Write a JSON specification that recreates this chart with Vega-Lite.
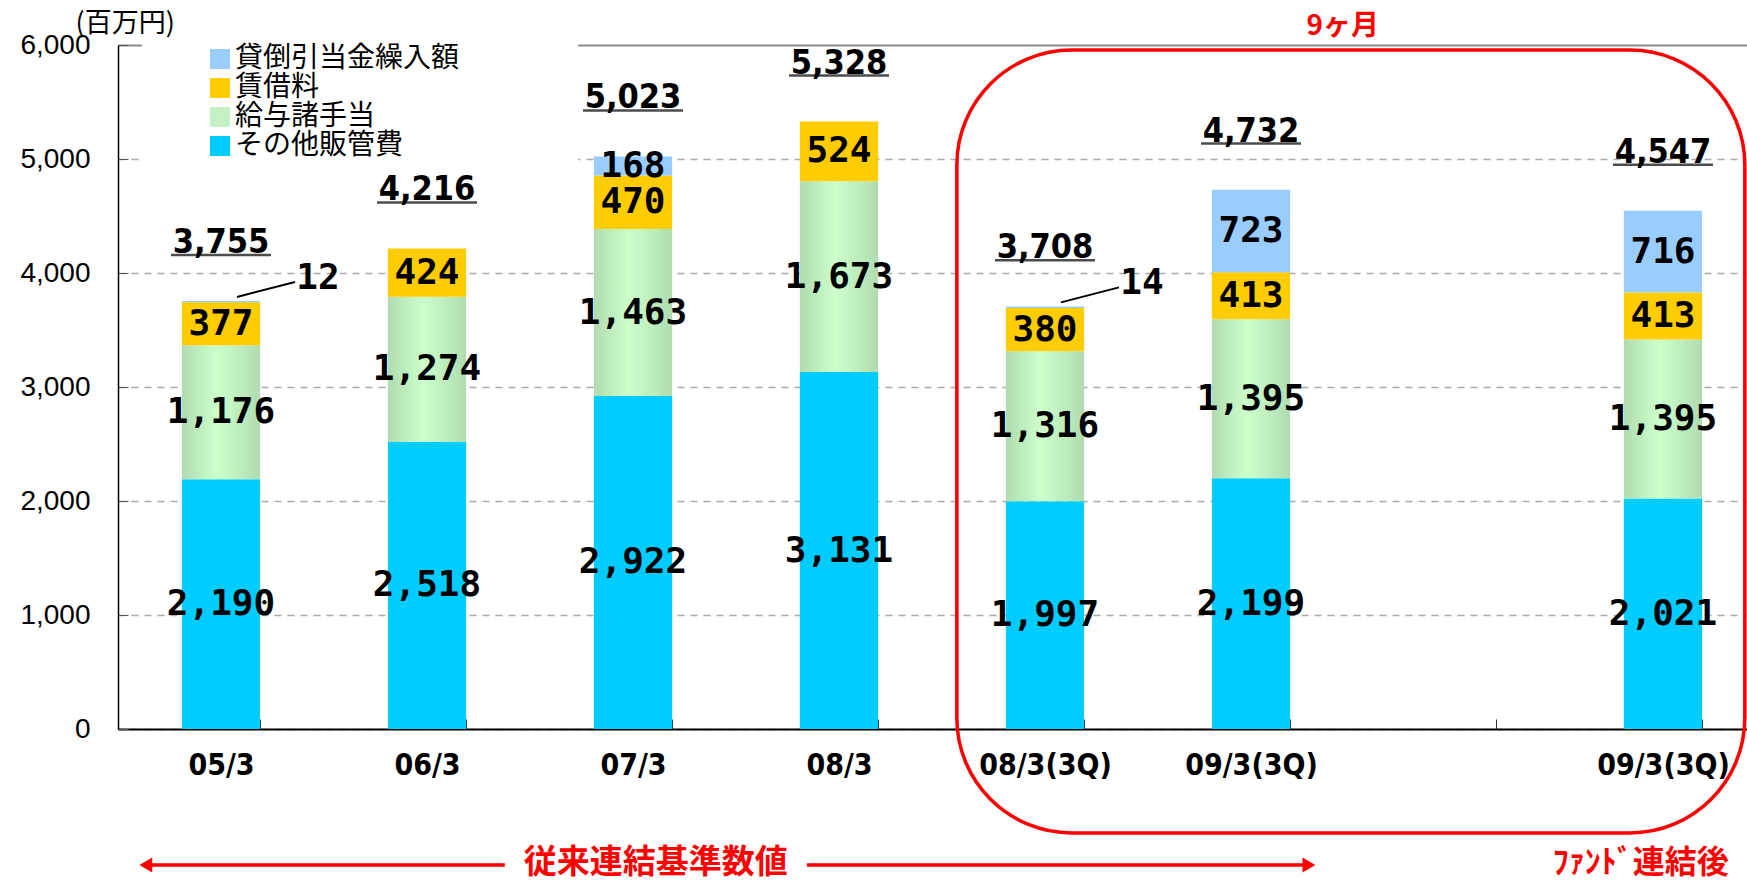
{
  "$schema": "https://vega.github.io/schema/vega-lite/v6.json",
  "width": 1629,
  "height": 684,
  "autosize": {"type": "none"},
  "padding": {"left": 118, "top": 45, "right": 0, "bottom": 154},
  "background": "white",
  "config": {"view": {"stroke": null}},
  "datasets": {
    "costs": [
      {"cat": "05/3", "s": "その他販管費", "v": 2190, "o": 1},
      {"cat": "05/3", "s": "給与諸手当", "v": 1176, "o": 2},
      {"cat": "05/3", "s": "賃借料", "v": 377, "o": 3},
      {"cat": "05/3", "s": "貸倒引当金繰入額", "v": 12, "o": 4},
      {"cat": "06/3", "s": "その他販管費", "v": 2518, "o": 1},
      {"cat": "06/3", "s": "給与諸手当", "v": 1274, "o": 2},
      {"cat": "06/3", "s": "賃借料", "v": 424, "o": 3},
      {"cat": "07/3", "s": "その他販管費", "v": 2922, "o": 1},
      {"cat": "07/3", "s": "給与諸手当", "v": 1463, "o": 2},
      {"cat": "07/3", "s": "賃借料", "v": 470, "o": 3},
      {"cat": "07/3", "s": "貸倒引当金繰入額", "v": 168, "o": 4},
      {"cat": "08/3", "s": "その他販管費", "v": 3131, "o": 1},
      {"cat": "08/3", "s": "給与諸手当", "v": 1673, "o": 2},
      {"cat": "08/3", "s": "賃借料", "v": 524, "o": 3},
      {"cat": "08/3(3Q)", "s": "その他販管費", "v": 1997, "o": 1},
      {"cat": "08/3(3Q)", "s": "給与諸手当", "v": 1316, "o": 2},
      {"cat": "08/3(3Q)", "s": "賃借料", "v": 380, "o": 3},
      {"cat": "08/3(3Q)", "s": "貸倒引当金繰入額", "v": 14, "o": 4},
      {"cat": "09/3(3Q)", "s": "その他販管費", "v": 2199, "o": 1},
      {"cat": "09/3(3Q)", "s": "給与諸手当", "v": 1395, "o": 2},
      {"cat": "09/3(3Q)", "s": "賃借料", "v": 413, "o": 3},
      {"cat": "09/3(3Q)", "s": "貸倒引当金繰入額", "v": 723, "o": 4},
      {"cat": "09/3(3Q)F", "s": "その他販管費", "v": 2021, "o": 1},
      {"cat": "09/3(3Q)F", "s": "給与諸手当", "v": 1395, "o": 2},
      {"cat": "09/3(3Q)F", "s": "賃借料", "v": 413, "o": 3},
      {"cat": "09/3(3Q)F", "s": "貸倒引当金繰入額", "v": 716, "o": 4}
    ],
    "totals": [
      {"cat": "05/3", "total": 3755},
      {"cat": "06/3", "total": 4216},
      {"cat": "07/3", "total": 5023},
      {"cat": "08/3", "total": 5328},
      {"cat": "08/3(3Q)", "total": 3708},
      {"cat": "09/3(3Q)", "total": 4732},
      {"cat": "09/3(3Q)F", "total": 4547}
    ]
  },
  "layer": [
    {
      "data": {"name": "costs"},
      "mark": {"type": "bar"},
      "encoding": {
        "x": {
          "field": "cat", "type": "nominal", "sort": null,
          "scale": {
            "domain": ["05/3", "06/3", "07/3", "08/3", "08/3(3Q)", "09/3(3Q)", "gap", "09/3(3Q)F"],
            "range": [0, 1648], "paddingInner": 0.62, "paddingOuter": 0.31
          },
          "axis": {
            "title": null,
            "labelAngle": 0,
            "labelExpr": "isString(datum.value) && datum.value !== 'gap' ? replace(datum.value, 'F', '') : ''",
            "labelFont": "DejaVu Sans Condensed, Liberation Sans Narrow, DejaVu Sans",
            "labelFontWeight": "bold",
            "labelFontSize": 30,
            "labelColor": "black",
            "labelPadding": 31,
            "tickBand": "extent",
            "tickSize": -10,
            "tickColor": "#333333",
            "domainColor": "black",
            "domainWidth": 2
          }
        },
        "y": {
          "field": "v", "type": "quantitative", "stack": "zero",
          "scale": {"domain": [0, 6000], "nice": false},
          "axis": {
            "values": [0, 1000, 2000, 3000, 4000, 5000, 6000],
            "labelExpr": "format(datum.value, ',')",
            "labelFont": "Liberation Sans",
            "labelFontSize": 28,
            "labelColor": "black",
            "labelPadding": 38,
            "tickSize": -10,
            "tickColor": "#555555",
            "domainColor": "black",
            "domainWidth": 1.5,
            "grid": true,
            "gridColor": {"condition": {"test": "datum.value === 6000", "value": "#8C8C8C"}, "value": "#AAAAAA"},
            "gridDash": {"condition": {"test": "datum.value === 6000", "value": []}, "value": [7, 6]},
            "gridWidth": {"condition": {"test": "datum.value === 6000", "value": 2}, "value": 1.5},
            "title": "(百万円)",
            "titleAngle": 0,
            "titleAlign": "left",
            "titleBaseline": "middle",
            "titleX": -43,
            "titleY": -22,
            "titleFont": "Noto Sans CJK JP",
            "titleFontWeight": "normal",
            "titleFontSize": 27,
            "titleColor": "black"
          }
        },
        "order": {"field": "o", "type": "quantitative"},
        "color": {
          "condition": {
            "test": "datum.s === '給与諸手当'",
            "value": {
              "gradient": "linear", "x1": 0, "x2": 1, "y1": 0, "y2": 0,
              "stops": [
                {"offset": 0, "color": "#B0DCB0"},
                {"offset": 0.45, "color": "#CCFFCC"},
                {"offset": 1, "color": "#B0DCB0"}
              ]
            }
          },
          "field": "s", "type": "nominal",
          "scale": {
            "domain": ["貸倒引当金繰入額", "賃借料", "給与諸手当", "その他販管費"],
            "range": ["#99CCFF", "#FFCC00", "#C4F2C4", "#00CCFF"]
          },
          "legend": {
            "title": null,
            "orient": "none",
            "legendX": 88,
            "legendY": 0,
            "symbolType": "square",
            "symbolSize": 400,
            "symbolStrokeWidth": 0,
            "labelFont": "Noto Sans CJK JP",
            "labelFontSize": 28,
            "labelColor": "black",
            "labelOffset": 1,
            "labelLimit": 0,
            "rowPadding": 1,
            "padding": 0,
            "encode": {
              "symbols": {
                "update": {
                  "fill": [
                    {
                      "test": "datum.value === '給与諸手当'",
                      "value": {
                        "gradient": "linear", "x1": 0, "x2": 1, "y1": 0, "y2": 0,
                        "stops": [
                          {"offset": 0, "color": "#B0DCB0"},
                          {"offset": 0.45, "color": "#CCFFCC"},
                          {"offset": 1, "color": "#B0DCB0"}
                        ]
                      }
                    },
                    {"scale": "color", "field": "value"}
                  ]
                }
              }
            }
          }
        }
      }
    },
    {
      "data": {"values": [{}]},
      "mark": {"type": "rect", "fill": "white"},
      "encoding": {
        "x": {"datum": "05/3", "bandPosition": -0.51},
        "x2": {"datum": "07/3", "bandPosition": -0.2},
        "y": {"datum": 6060},
        "y2": {"datum": 4900}
      }
    },
    {
      "data": {"name": "costs"},
      "transform": [{"filter": "datum.v > 20"}],
      "mark": {"type": "text", "font": "DejaVu Sans Mono", "fontWeight": "bold", "fontSize": 36, "baseline": "middle", "color": "black"},
      "encoding": {
        "x": {"field": "cat", "type": "nominal"},
        "y": {"field": "v", "type": "quantitative", "stack": "zero", "bandPosition": 0.5},
        "order": {"field": "o", "type": "quantitative"},
        "text": {"field": "v", "type": "quantitative", "format": ","}
      }
    },
    {
      "data": {"name": "costs"},
      "transform": [
        {"stack": "v", "groupby": ["cat"], "sort": [{"field": "o", "order": "ascending"}], "as": ["y0", "y1"]},
        {"filter": "datum.v <= 20"}
      ],
      "mark": {"type": "text", "font": "DejaVu Sans Mono", "fontWeight": "bold", "fontSize": 36, "baseline": "middle", "color": "black", "dx": 97, "dy": -23},
      "encoding": {
        "x": {"field": "cat", "type": "nominal"},
        "y": {"field": "y1", "type": "quantitative"},
        "text": {"field": "v", "type": "quantitative"}
      }
    },
    {
      "data": {"name": "costs"},
      "transform": [
        {"stack": "v", "groupby": ["cat"], "sort": [{"field": "o", "order": "ascending"}], "as": ["y0", "y1"]},
        {"filter": "datum.v <= 20"}
      ],
      "mark": {"type": "rule", "color": "black", "strokeWidth": 2, "xOffset": 16, "x2Offset": 74, "yOffset": -4, "y2Offset": -19},
      "encoding": {
        "x": {"field": "cat", "type": "nominal"},
        "x2": {"field": "cat"},
        "y": {"field": "y1", "type": "quantitative"},
        "y2": {"field": "y1"}
      }
    },
    {
      "data": {"name": "totals"},
      "mark": {"type": "text", "font": "DejaVu Sans Condensed, Liberation Sans Narrow, DejaVu Sans", "fontWeight": "bold", "fontSize": 34, "baseline": "alphabetic", "dy": -48, "color": "black"},
      "encoding": {
        "x": {"field": "cat", "type": "nominal"},
        "y": {"field": "total", "type": "quantitative"},
        "text": {"field": "total", "type": "quantitative", "format": ","}
      }
    },
    {
      "data": {"name": "totals"},
      "mark": {"type": "tick", "color": "black", "thickness": 2.5, "size": 100, "yOffset": -46},
      "encoding": {
        "x": {"field": "cat", "type": "nominal"},
        "y": {"field": "total", "type": "quantitative"}
      }
    },
    {
      "data": {"values": [{}]},
      "mark": {"type": "rect", "fill": null, "stroke": "red", "strokeWidth": 3.5, "cornerRadius": 115},
      "encoding": {
        "x": {"datum": "08/3(3Q)", "bandPosition": -0.626},
        "x2": {"datum": "09/3(3Q)F", "bandPosition": 1.545},
        "y": {"datum": 5956},
        "y2": {"datum": -912}
      }
    },
    {
      "data": {"values": [{"t": "9ヶ月"}]},
      "mark": {"type": "text", "font": "Noto Sans CJK JP", "fontWeight": "bold", "fontSize": 28, "color": "red", "baseline": "middle"},
      "encoding": {
        "x": {"datum": "09/3(3Q)", "bandPosition": 1.673},
        "y": {"datum": 6158},
        "text": {"field": "t"}
      }
    },
    {
      "data": {"values": [{"t": "従来連結基準数値"}]},
      "mark": {"type": "text", "font": "Noto Sans CJK JP", "fontWeight": "bold", "fontSize": 33, "color": "red", "baseline": "middle"},
      "encoding": {
        "x": {"datum": "07/3", "bandPosition": 0.79},
        "y": {"datum": -1175},
        "text": {"field": "t"}
      }
    },
    {
      "data": {"values": [{"t": "ﾌｧﾝﾄﾞ連結後"}]},
      "mark": {"type": "text", "font": "Noto Sans CJK JP", "fontWeight": "bold", "fontSize": 32, "color": "red", "baseline": "middle"},
      "encoding": {
        "x": {"datum": "09/3(3Q)F", "bandPosition": 0.217},
        "y": {"datum": -1175},
        "text": {"field": "t"}
      }
    },
    {
      "data": {"values": [{}]},
      "mark": {"type": "rule", "color": "red", "strokeWidth": 3.5},
      "encoding": {
        "x": {"datum": "05/3", "bandPosition": -0.47},
        "x2": {"datum": "06/3", "bandPosition": 1.494},
        "y": {"datum": -1193}
      }
    },
    {
      "data": {"values": [{}]},
      "mark": {"type": "rule", "color": "red", "strokeWidth": 3.5},
      "encoding": {
        "x": {"datum": "08/3", "bandPosition": 0.09},
        "x2": {"datum": "09/3(3Q)", "bandPosition": 1.226},
        "y": {"datum": -1193}
      }
    },
    {
      "data": {"values": [{}]},
      "mark": {"type": "point", "shape": "triangle-left", "filled": true, "color": "red", "size": 220, "opacity": 1},
      "encoding": {
        "x": {"datum": "05/3", "bandPosition": -0.46},
        "y": {"datum": -1193}
      }
    },
    {
      "data": {"values": [{}]},
      "mark": {"type": "point", "shape": "triangle-right", "filled": true, "color": "red", "size": 220, "opacity": 1},
      "encoding": {
        "x": {"datum": "09/3(3Q)", "bandPosition": 1.24},
        "y": {"datum": -1193}
      }
    }
  ]
}
